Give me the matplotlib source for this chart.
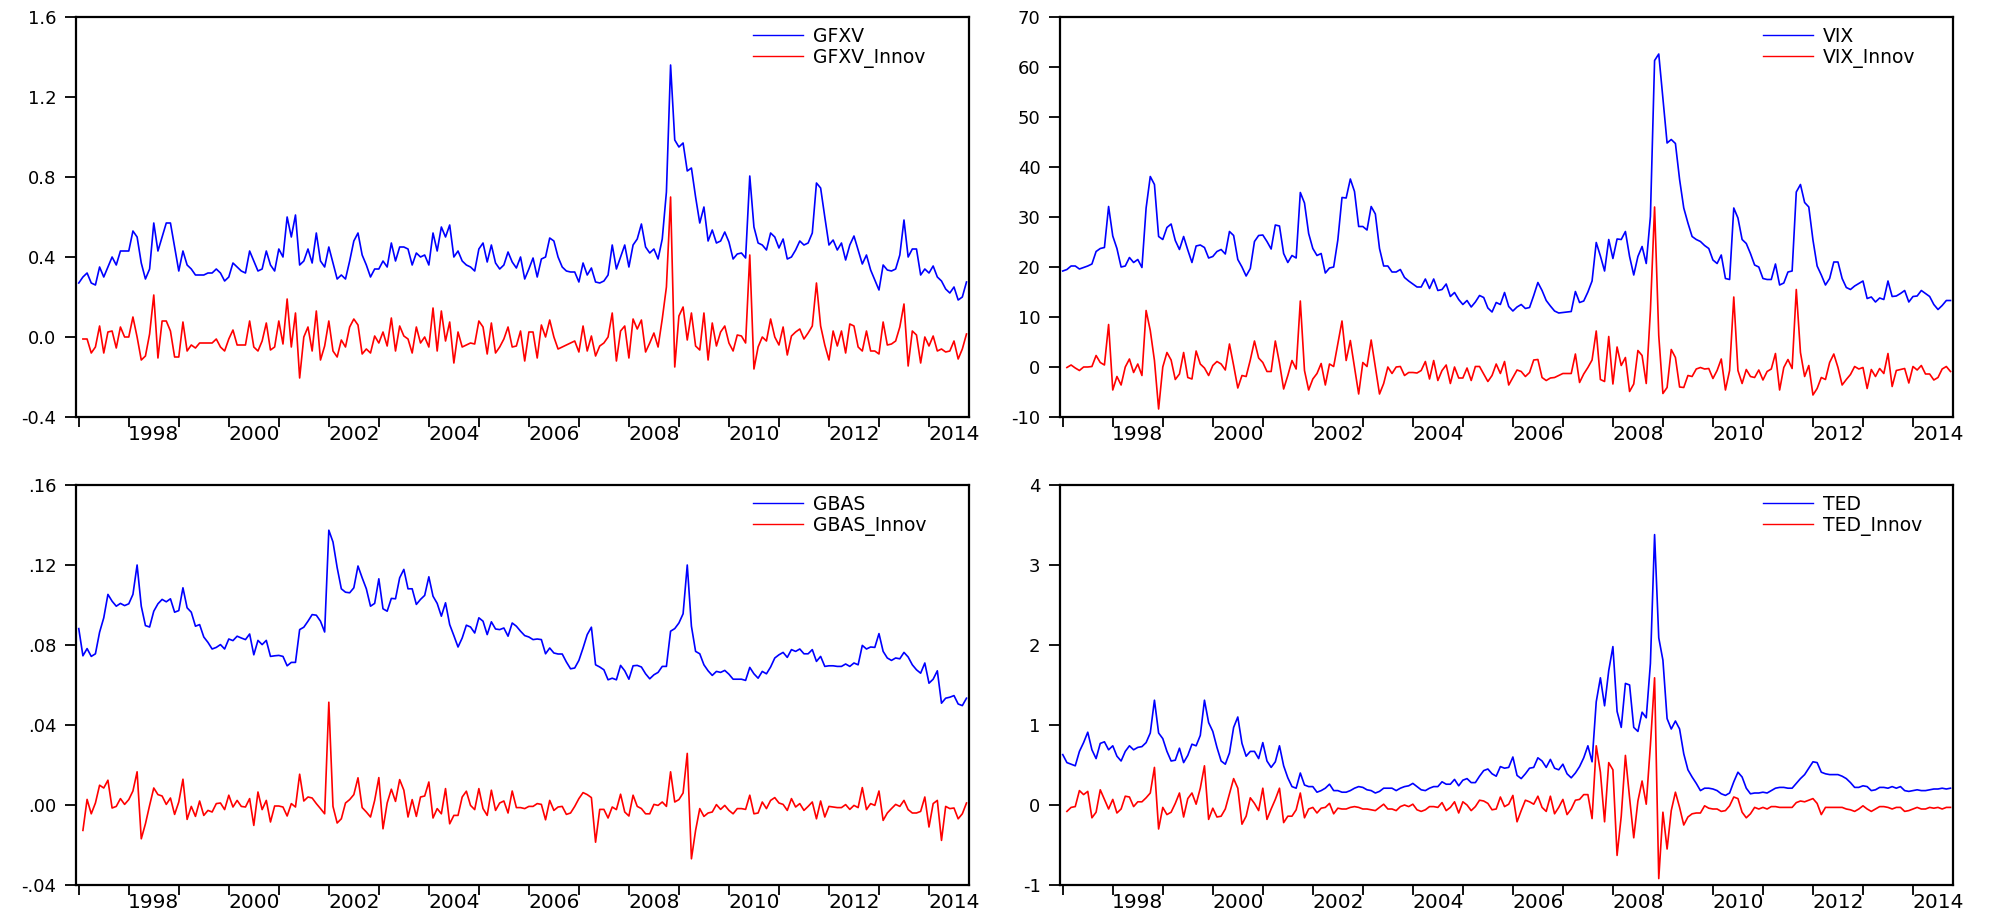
import numpy as np
import matplotlib
matplotlib.use("Agg")
import matplotlib.pyplot as plt
from matplotlib.ticker import FixedLocator, FixedFormatter

plt.rcParams['font.family'] = ['DejaVu Sans']

# monthly observations, Jan 1997 .. Oct 2014
n_obs = 214
t = 1997 + np.arange(n_obs) / 12.0

gfxv = [0.27, 0.30, 0.32, 0.27, 0.26, 0.35, 0.30, 0.35, 0.40, 0.36,
        0.43, 0.43, 0.43, 0.53, 0.50, 0.37, 0.29, 0.34, 0.57, 0.43,
        0.50, 0.57, 0.57, 0.45, 0.33, 0.43, 0.36, 0.34, 0.31, 0.31,
        0.31, 0.32, 0.32, 0.34, 0.32, 0.28, 0.30, 0.37, 0.35, 0.33,
        0.32, 0.43, 0.38, 0.33, 0.34, 0.43, 0.36, 0.33, 0.44, 0.40,
        0.60, 0.50, 0.61, 0.36, 0.38, 0.44, 0.37, 0.52, 0.38, 0.35,
        0.45, 0.37, 0.29, 0.31, 0.29, 0.38, 0.48, 0.52, 0.41, 0.36,
        0.30, 0.34, 0.34, 0.38, 0.35, 0.47, 0.38, 0.45, 0.45, 0.44,
        0.36, 0.42, 0.40, 0.41, 0.36, 0.52, 0.43, 0.55, 0.50, 0.56,
        0.40, 0.43, 0.38, 0.36, 0.35, 0.33,
        0.44, 0.47, 0.375, 0.46,
        0.37, 0.34, 0.36, 0.425, 0.375, 0.345, 0.40, 0.29, 0.34, 0.395,
        0.30, 0.39, 0.40, 0.495, 0.48, 0.40, 0.35, 0.33, 0.325, 0.325,
        0.275, 0.37, 0.31, 0.345, 0.275, 0.27, 0.28, 0.31, 0.46, 0.34,
        0.40, 0.46, 0.35, 0.46, 0.49, 0.565, 0.45, 0.42, 0.44, 0.39,
        0.49, 0.725, 1.36, 0.985, 0.95, 0.97, 0.83, 0.845, 0.70, 0.57,
        0.65, 0.48, 0.535, 0.47, 0.48, 0.525, 0.475, 0.39, 0.415, 0.42,
        0.395, 0.805, 0.55, 0.47, 0.46, 0.435, 0.52, 0.50, 0.445, 0.49,
        0.39, 0.40, 0.435, 0.48, 0.46, 0.47, 0.52, 0.77, 0.745, 0.60,
        0.46, 0.485, 0.435, 0.47, 0.385, 0.46, 0.505, 0.435, 0.365, 0.41,
        0.335, 0.285, 0.235, 0.36, 0.335, 0.33, 0.34, 0.41, 0.585, 0.40,
        0.44, 0.44, 0.31, 0.34, 0.32, 0.355, 0.30, 0.28, 0.24, 0.22,
        0.25, 0.185, 0.20, 0.275]

gfxv_innov = [-0.01, -0.01, -0.08, -0.05, 0.055, -0.08, 0.025, 0.03, -0.055, 0.05,
              0.0, 0.0, 0.10, 0.0, -0.115, -0.095, 0.015, 0.21, -0.105, 0.08,
              0.08, 0.03, -0.10, -0.10, 0.075, -0.07, -0.04, -0.055, -0.03, -0.03,
              -0.03, -0.03, -0.01, -0.05, -0.07, -0.01, 0.035, -0.04, -0.04, -0.04,
              0.08, -0.05, -0.07, -0.02, 0.07, -0.065, -0.05, 0.08, -0.035, 0.19,
              -0.05, 0.12, -0.205, 0.0, 0.05, -0.07, 0.13, -0.115, -0.045, 0.08,
              -0.07, -0.10, -0.015, -0.05, 0.05, 0.09, 0.06, -0.085, -0.06, -0.08,
              0.005, -0.03, 0.025, -0.045, 0.095, -0.07, 0.055, 0.005, -0.01, -0.08,
              0.05, -0.03, 0.0, -0.05, 0.145, -0.07, 0.13, -0.02, 0.075, -0.13,
              0.025, -0.05, -0.04, -0.03, -0.035,
              0.08, 0.05, -0.085, 0.07, -0.08, -0.05, -0.01, 0.05, -0.05, -0.045,
              0.03, -0.12, 0.025, 0.025, -0.105, 0.06, 0.0, 0.085, 0.0, -0.06,
              -0.05, -0.04, -0.03, -0.02, -0.075, 0.055, -0.07, 0.005, -0.095, -0.045,
              -0.03, 0.0, 0.12, -0.12, 0.03, 0.055, -0.105, 0.09, 0.04, 0.085,
              -0.075, -0.03, 0.02, -0.05, 0.09, 0.25, 0.70, -0.15, 0.105, 0.15,
              -0.015, 0.12, -0.045, -0.065, 0.12, -0.115, 0.07, -0.045, 0.025, 0.055,
              -0.03, -0.07, 0.01, 0.005, -0.03, 0.41, -0.16, -0.05, 0.0, -0.02,
              0.09, 0.0, -0.04, 0.05, -0.09, 0.005, 0.025, 0.04, -0.01, 0.02,
              0.055, 0.27, 0.055, -0.04, -0.115, 0.03, -0.045, 0.03, -0.08, 0.065,
              0.055, -0.05, -0.07, 0.03, -0.07, -0.07, -0.085, 0.075, -0.04, -0.035,
              -0.02, 0.05, 0.165, -0.145, 0.03, 0.01, -0.13, 0.0, -0.045, 0.005,
              -0.07, -0.06, -0.075, -0.07, -0.02, -0.11, -0.06, 0.015]

vix = [19.2, 19.5, 20.2, 20.2, 19.6, 19.9, 20.2, 20.6, 23.1, 23.7,
       23.9, 32.1, 26.2, 23.7, 20.0, 20.2, 21.9, 20.9, 21.5, 19.9,
       31.8, 38.1, 36.5, 26.1, 25.5, 27.9, 28.6, 25.3, 23.5, 26.1,
       23.4, 20.9, 24.2, 24.4, 23.9, 21.8, 22.1, 23.1, 23.5, 22.6,
       27.1, 26.3, 21.5, 20.0, 18.2, 19.7, 25.1, 26.3, 26.4, 25.1,
       23.6, 28.4, 28.2, 22.7, 20.9, 22.3, 21.8, 34.9, 32.8, 26.7,
       23.7, 22.3, 22.7, 18.8, 19.8, 20.0, 25.4, 33.9, 33.8, 37.6,
       35.1, 28.1, 28.1, 27.4, 32.1, 30.6, 23.7, 20.2, 20.2, 19.0,
       19.0, 19.5, 17.9, 17.2, 16.6, 16.0, 16.0, 17.6, 15.7, 17.6,
       15.3, 15.5, 16.6, 14.1, 14.9, 13.5, 12.5, 13.3, 12.0, 13.0,
       14.3, 13.9, 11.8, 11.0, 12.9, 12.5, 14.9, 12.1, 11.2, 12.0,
       12.5, 11.7, 11.9, 14.3, 16.9, 15.3, 13.3, 12.2, 11.2, 10.8,
       10.9, 11.0, 11.1, 15.1, 12.9, 13.2, 15.0, 17.2, 24.9, 22.2,
       19.2, 25.5, 21.7, 25.6, 25.5, 27.1, 22.1, 18.4, 22.1, 24.1,
       20.7, 30.1, 61.3, 62.6, 53.6, 44.8, 45.5, 44.7, 37.5, 31.8,
       28.8, 26.1, 25.5, 25.1, 24.3, 23.7, 21.4, 20.7, 22.4, 17.7,
       17.5, 31.8, 29.8, 25.5, 24.7, 22.7, 20.4, 20.0, 17.7, 17.5,
       17.5, 20.6, 16.4, 16.8, 19.0, 19.2, 35.0, 36.5, 32.9, 32.0,
       25.4, 20.2, 18.4, 16.4, 17.7, 21.0, 21.0, 17.7, 15.9, 15.5,
       16.2, 16.7, 17.2, 13.7, 14.0, 13.0, 13.8, 13.5, 17.2, 14.1,
       14.2, 14.7, 15.3, 13.0, 14.1, 14.2, 15.3, 14.7, 14.1, 12.5,
       11.5, 12.3, 13.3, 13.3]

vix_innov = [-0.1, 0.4, -0.2, -0.7, 0.0, 0.0, 0.1, 2.3, 0.9, 0.4,
             8.5, -4.6, -1.9, -3.6, 0.0, 1.6, -1.1, 0.6, -1.7, 11.3,
             7.3, 1.3, -8.4, 0.0, 2.9, 1.4, -2.5, -1.4, 2.9, -2.1,
             -2.4, 3.2, 0.6, -0.2, -1.7, 0.3, 1.1, 0.6, -0.6, 4.6,
             0.3, -4.2, -1.7, -1.9, 1.4, 5.2, 1.8, 0.9, -0.9, -0.9,
             5.2, 0.8, -4.4, -1.7, 1.3, -0.4, 13.2, -0.7, -4.6, -2.4,
             -1.3, 0.7, -3.6, 0.6, 0.1, 4.6, 9.2, 1.3, 5.3, 0.0,
             -5.4, 0.9, 0.1, 5.4, 0.0, -5.4, -3.3, 0.0, -1.3, 0.0,
             0.1, -1.7, -1.1, -1.1, -1.2, -0.7, 1.1, -2.4, 1.3, -2.7,
             -0.7, 0.4, -3.3, 0.0, -2.2, -2.2, -0.2, -2.7, 0.1, 0.1,
             -1.4, -2.9, -1.7, 0.6, -1.3, 1.1, -3.6, -2.1, -0.6, -0.9,
             -1.9, -1.1, 1.4, 1.5, -2.1, -2.7, -2.2, -2.1, -1.7, -1.3,
             -1.3, -1.3, 2.6, -3.1, -1.4, -0.1, 1.4, 7.2, -2.5, -2.9,
             6.1, -3.4, 4.0, 0.3, 1.9, -4.9, -3.4, 3.3, 2.3, -3.3,
             11.3, 32.0, 6.3, -5.3, -4.1, 3.5, 1.9, -4.0, -4.1, -1.7,
             -1.9, -0.4, -0.1, -0.4, -0.3, -2.3, -0.7, 1.6, -4.6, -0.7,
             14.0, -0.7, -3.3, -0.5, -1.9, -2.1, -0.6, -2.6, -0.9, -0.4,
             2.7, -4.6, -0.1, 1.5, -0.3, 15.5, 2.9, -1.9, 0.3, -5.6,
             -4.3, -2.1, -2.5, 0.9, 2.6, -0.1, -3.6, -2.5, -1.5, 0.1,
             -0.4, -0.1, -4.3, -0.5, -1.9, -0.3, -1.3, 2.7, -3.9, -0.7,
             -0.5, -0.3, -3.2, 0.1, -0.6, 0.3, -1.4, -1.4, -2.6, -2.1,
             -0.4, 0.1, -0.9]

gbas = [.0882, .0746, .0782, .0743, .0756, .0864, .0936, .1053, .1019, .0994,
        .1008, .0997, .1006, .1053, .1200, .0994, .0897, .0890, .0969, .1006,
        .1028, .1016, .1031, .0964, .0972, .1086, .0986, .0964, .0894, .0902,
        .0840, .0813, .0780, .0788, .0802, .0780, .0830, .0822, .0844, .0835,
        .0827, .0855, .0751, .0823, .0802, .0823, .0743, .0746, .0748, .0743,
        .0696, .0713, .0713, .0877, .0889, .0919, .0952, .0949, .0919, .0865,
        .1374, .1315, .1187, .1081, .1064, .1061, .1086, .1195, .1136, .1081,
        .0994, .1008, .1131, .0981, .0969, .1033, .1031, .1136, .1178, .1081,
        .1081, .1003, .1028, .1048, .1141, .1044, .1008, .0944, .1011, .0902,
        .0847, .0790, .0835, .0899, .0890, .0860,
        .0936, .0919, .0852, .0916,
        .0880, .0877, .0885, .0844, .0910, .0894, .0869, .0847, .0840, .0827,
        .0830, .0827, .0756, .0785, .0760, .0755, .0755, .0715, .0681, .0685,
        .0723, .0785, .0852, .0889, .0701, .0690, .0676, .0626, .0634, .0626,
        .0698, .0671, .0629, .0696, .0698, .0690, .0656, .0631, .0651, .0663,
        .0693, .0693, .0869, .0882, .0910, .0956, .1200, .0894, .0768, .0756,
        .0701, .0671, .0648, .0668, .0663, .0673, .0654, .0629, .0629, .0629,
        .0623, .0688, .0656, .0634, .0668, .0656, .0690, .0735, .0751, .0763,
        .0738, .0777, .0768, .0780, .0756, .0756, .0777, .0718, .0743, .0693,
        .0696, .0696, .0693, .0693, .0705, .0693, .0710, .0701, .0798, .0780,
        .0790, .0788, .0857, .0768, .0735, .0723, .0735, .0731, .0763, .0740,
        .0701, .0676, .0659, .0710, .0609, .0629, .0671, .0509, .0534, .0539,
        .0547, .0505, .0497, .0534]

gbas_innov = [-.0127, .0028, -.0044, .0010, .0099, .0085, .0124, -.0015, -.0007, .0032,
              .0003, .0027, .0070, .0166, -.0169, -.0094, -.0002, .0085, .0052, .0045,
              .0003, .0035, -.0047, .0015, .0129, -.0072, -.0007, -.0057, .0020, -.0052,
              -.0027, -.0035, .0007, .0010, -.0023, .0049, -.0010, .0023, -.0007, -.0010,
              .0032, -.0102, .0065, -.0023, .0023, -.0085, -.0005, -.0005, -.0010, -.0055,
              .0007, -.0010, .0154, .0020, .0040, .0035, .0007, -.0018, -.0044, .0514,
              -.0007, -.0090, -.0069, .0010, .0027, .0052, .0136, -.0013, -.0035, -.0060,
              .0023, .0137, -.0119, .0010, .0079, .0018, .0127, .0074, -.0060, .0027,
              -.0057, .0040, .0045, .0115, -.0065, -.0018, -.0044, .0082, -.0094, -.0052,
              -.0052, .0040, .0069, -.0002, -.0023,
              .0082, -.0018, -.0052, .0074, -.0027, .0010, .0020, -.0040, .0070, -.0013,
              -.0013, -.0018, -.0007, -.0007, .0007, .0003, -.0074, .0023, -.0027, -.0010,
              -.0007, -.0047, -.0040, -.0007, .0032, .0062, .0052, .0037, -.0186, -.0022,
              -.0022, -.0065, -.0010, -.0023, .0054, -.0035, -.0055, .0049, -.0007, -.0018,
              -.0044, -.0044, .0003, -.0002, .0015, -.0007, .0166, .0015, .0027, .0060,
              .0258, -.0269, -.0127, -.0018, -.0057, -.0040, -.0035, .0002, -.0022, -.0002,
              -.0027, -.0044, -.0018, -.0018, -.0022, .0049, -.0044, -.0040, .0015, -.0018,
              .0023, .0037, .0010, .0003, -.0027, .0032, -.0010, .0007, -.0027, -.0007,
              .0015, -.0069, .0020, -.0060, -.0007, -.0010, -.0013, -.0013, .0002, -.0022,
              -.0002, -.0013, .0087, -.0023, .0007, -.0002, .0070, -.0077, -.0040, -.0018,
              .0003, -.0007, .0023, -.0023, -.0040, -.0040, -.0032, .0040, -.0110, .0007,
              .0023, -.0177, -.0007, -.0018, -.0015, -.0069, -.0044, .0010]

ted = [0.63, 0.53, 0.51, 0.49, 0.67, 0.78, 0.91, 0.69, 0.58, 0.77,
       0.79, 0.69, 0.74, 0.61, 0.55, 0.67, 0.74, 0.69, 0.72, 0.73,
       0.78, 0.90, 1.31, 0.90, 0.83, 0.67, 0.55, 0.56, 0.71, 0.53,
       0.62, 0.76, 0.74, 0.87, 1.31, 1.03, 0.92, 0.72, 0.55, 0.51,
       0.65, 0.97, 1.10, 0.77, 0.61, 0.67, 0.67, 0.58, 0.78, 0.55,
       0.47, 0.54, 0.74, 0.49, 0.34, 0.23, 0.21, 0.40, 0.25, 0.23,
       0.23, 0.16, 0.18, 0.21, 0.26, 0.18, 0.18, 0.16, 0.16, 0.18,
       0.21, 0.23, 0.22, 0.19, 0.18, 0.15, 0.17, 0.21, 0.21, 0.21,
       0.18, 0.21, 0.23, 0.24, 0.27, 0.23, 0.19, 0.18, 0.21, 0.23,
       0.23, 0.29, 0.26, 0.26, 0.32, 0.24, 0.31, 0.33, 0.28, 0.28,
       0.36, 0.43, 0.45, 0.39, 0.36, 0.48, 0.46, 0.47, 0.60, 0.37,
       0.33, 0.39, 0.46, 0.47, 0.59, 0.55, 0.47, 0.57, 0.46, 0.44,
       0.51, 0.39, 0.34, 0.40, 0.48, 0.59, 0.74, 0.54, 1.29, 1.59,
       1.24, 1.68, 1.98, 1.17, 0.97, 1.52, 1.50, 0.97, 0.92, 1.16,
       1.09, 1.77, 3.38, 2.09, 1.81, 1.08, 0.95, 1.05, 0.95, 0.64,
       0.44, 0.35, 0.27, 0.18, 0.21, 0.21, 0.20, 0.18, 0.14, 0.12,
       0.15, 0.29, 0.41, 0.35, 0.21, 0.14, 0.15, 0.15, 0.16, 0.15,
       0.18, 0.21, 0.22, 0.22, 0.21, 0.21, 0.27, 0.33, 0.38, 0.46,
       0.54, 0.53, 0.41, 0.39, 0.38, 0.38, 0.38, 0.36, 0.33, 0.28,
       0.22, 0.22, 0.24, 0.23, 0.18, 0.19, 0.22, 0.22, 0.21, 0.23,
       0.21, 0.23, 0.18, 0.17, 0.18, 0.19, 0.18, 0.18, 0.19, 0.20,
       0.20, 0.21, 0.20, 0.21]

ted_innov = [-0.08, -0.03, -0.02, 0.18, 0.13, 0.17, -0.16, -0.09, 0.19, 0.07,
             -0.05, 0.07, -0.10, -0.05, 0.11, 0.10, -0.02, 0.04, 0.04, 0.09,
             0.15, 0.47, -0.30, -0.03, -0.12, -0.09, 0.02, 0.15, -0.15, 0.08,
             0.15, 0.01, 0.21, 0.49, -0.18, -0.04, -0.15, -0.14, -0.05, 0.14,
             0.33, 0.21, -0.24, -0.14, 0.09, 0.02, -0.07, 0.21, -0.18, -0.05,
             0.07, 0.21, -0.22, -0.14, -0.14, -0.06, 0.15, -0.16, -0.05, -0.03,
             -0.10, -0.04, -0.03, 0.02, -0.11, -0.04, -0.05, -0.05, -0.03, -0.02,
             -0.03, -0.05, -0.05, -0.06, -0.07, -0.03, 0.01, -0.05, -0.05, -0.07,
             -0.02, 0.00, -0.02, 0.01, -0.06, -0.08, -0.06, -0.02, -0.02, -0.03,
             0.03, -0.07, -0.03, 0.04, -0.10, 0.04, 0.00, -0.07, -0.02, 0.06,
             0.05, 0.02, -0.06, -0.05, 0.10, -0.02, 0.01, 0.12, -0.21, -0.07,
             0.06, 0.04, 0.01, 0.11, -0.03, -0.08, 0.11, -0.11, -0.03, 0.07,
             -0.12, -0.05, 0.06, 0.07, 0.13, 0.13, -0.17, 0.74, 0.41, -0.21,
             0.53, 0.44, -0.63, -0.14, 0.62, 0.09, -0.41, 0.05, 0.30, 0.01,
             0.75, 1.59, -0.92, -0.09, -0.55, -0.07, 0.16, -0.03, -0.25, -0.15,
             -0.11, -0.10, -0.10, -0.01, -0.04, -0.05, -0.05, -0.08, -0.07, -0.01,
             0.10, 0.08, -0.09, -0.16, -0.11, -0.03, -0.05, -0.03, -0.05, -0.02,
             -0.02, -0.03, -0.03, -0.03, -0.03, 0.03, 0.05, 0.04, 0.06, 0.08,
             0.02, -0.12, -0.03, -0.03, -0.03, -0.03, -0.03, -0.05, -0.06, -0.08,
             -0.05, -0.01, -0.05, -0.08, -0.05, -0.02, -0.02, -0.03, -0.05, -0.03,
             -0.03, -0.08, -0.07, -0.05, -0.03, -0.05, -0.05, -0.03, -0.04, -0.03,
             -0.05, -0.03, -0.03]

year_ticks = list(range(1997, 2015))
label_years = list(range(1998, 2015, 2))

W, H = 1989, 917
fig = plt.figure(figsize=(W / 100, H / 100), dpi=100)


def panel(left_px, top_px, level, innov, names, ylim, yticks, ylabels, leg_x):
    ax = fig.add_axes([left_px / W, 1 - (top_px + 400) / H, 893 / W, 400 / H])
    ax.plot(t, level, color='#0000FF', lw=1.2, label=names[0])
    ax.plot(t[1:], innov, color='#FF0000', lw=1.2, label=names[1])
    ax.set_xlim(1996.945, 2014.8)
    ax.set_ylim(*ylim)
    ax.set_yticks(yticks)
    ax.set_yticklabels(ylabels, fontsize=13)
    # year ticks without labels, even-year labels centred inside the year
    ax.xaxis.set_major_locator(FixedLocator(year_ticks))
    ax.xaxis.set_major_formatter(FixedFormatter([''] * len(year_ticks)))
    ax.xaxis.set_minor_locator(FixedLocator([y + 0.5 for y in label_years]))
    ax.xaxis.set_minor_formatter(FixedFormatter([str(y) for y in label_years]))
    ax.tick_params(axis='x', which='major', direction='out', length=7, width=1.3)
    ax.tick_params(axis='x', which='minor', length=0, pad=6, labelsize=14.5)
    ax.tick_params(axis='y', direction='out', length=8, width=1.3, pad=6)
    for s in ax.spines.values():
        s.set_linewidth(1.6)
    leg = ax.legend(loc='upper left', bbox_to_anchor=(leg_x, 0.975), frameon=False,
                    fontsize=13.5, handlelength=2.67, handletextpad=0.53,
                    labelspacing=0.08, borderpad=0, borderaxespad=0)
    for h in leg.get_lines():
        h.set_linewidth(1.0)
    return ax


panel(76, 17, gfxv, gfxv_innov, ['GFXV', 'GFXV_Innov'], (-0.4, 1.6),
      [-0.4, 0.0, 0.4, 0.8, 1.2, 1.6], ['-0.4', '0.0', '0.4', '0.8', '1.2', '1.6'], 0.758)
panel(1060, 17, vix, vix_innov, ['VIX', 'VIX_Innov'], (-10, 70),
      [-10, 0, 10, 20, 30, 40, 50, 60, 70],
      ['-10', '0', '10', '20', '30', '40', '50', '60', '70'], 0.787)
panel(76, 485, gbas, gbas_innov, ['GBAS', 'GBAS_Innov'], (-0.04, 0.16),
      [-0.04, 0.0, 0.04, 0.08, 0.12, 0.16], ['-.04', '.00', '.04', '.08', '.12', '.16'], 0.758)
panel(1060, 485, ted, ted_innov, ['TED', 'TED_Innov'], (-1, 4),
      [-1, 0, 1, 2, 3, 4], ['-1', '0', '1', '2', '3', '4'], 0.787)

fig.savefig('out.png', dpi=100)
